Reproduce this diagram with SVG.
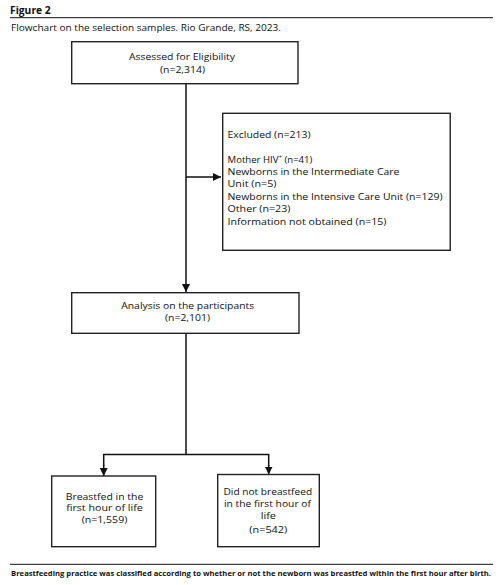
<svg xmlns="http://www.w3.org/2000/svg" width="501" height="585" viewBox="0 0 501 585">
<defs>
<marker id="ah" viewBox="0 0 10 10" refX="10" refY="5" markerWidth="8" markerHeight="8" markerUnits="userSpaceOnUse" orient="auto">
<path d="M0,0 L10,5 L0,10 z" fill="#111"/>
</marker>
<style>
.box{fill:#fff;stroke:#222;stroke-width:1.4}
.t{font-family:"Open Sans","Liberation Sans",Arial,sans-serif;font-size:9.6px;fill:#111}
.c{text-anchor:middle}
.conn{fill:none;stroke:#111;stroke-width:1.5}
.rule{stroke:#111;stroke-width:1}
</style>
</defs>
<rect width="501" height="585" fill="#fff"/>
<g id="header">
<text x="10" y="14" class="t" style="font-weight:bold;font-size:11px" textLength="40.7" lengthAdjust="spacingAndGlyphs">Figure 2</text>
<line x1="10" y1="17.7" x2="493" y2="17.7" class="rule"/>
<text x="11" y="30.5" class="t" style="font-size:9.3px" textLength="270" lengthAdjust="spacingAndGlyphs">Flowchart on the selection samples. Rio Grande, RS, 2023.</text>
</g>
<g id="connectors">
<line x1="186" y1="84" x2="186" y2="292" class="conn" marker-end="url(#ah)"/>
<line x1="186" y1="177" x2="221" y2="177" class="conn" marker-end="url(#ah)"/>
<polyline points="186,334 186,454.5" class="conn"/>
<polyline points="103.7,466 103.7,454.5 268.7,454.5 268.7,466" class="conn"/>
<line x1="103.7" y1="465" x2="103.7" y2="476" class="conn" marker-end="url(#ah)"/>
<line x1="268.7" y1="465" x2="268.7" y2="474.5" class="conn" marker-end="url(#ah)"/>
</g>
<g id="assessed">
<rect x="71.7" y="41.7" width="226.3" height="42" class="box"/>
<text x="182" y="59.5" class="t c" textLength="106" lengthAdjust="spacingAndGlyphs">Assessed for Eligibility</text>
<text x="182.5" y="72.5" class="t c" textLength="45" lengthAdjust="spacingAndGlyphs">(n=2,314)</text>
</g>
<g id="excluded">
<rect x="222.7" y="113.3" width="227.5" height="137" class="box"/>
<text x="227.5" y="137.5" class="t" textLength="83" lengthAdjust="spacingAndGlyphs">Excluded (n=213)</text>
<text x="227.5" y="162.5" class="t">Mother HIV<tspan style="font-size:6px" dy="-3.5">+</tspan><tspan dy="3.5"> (n=41)</tspan></text>
<text x="227.5" y="175" class="t" textLength="172" lengthAdjust="spacingAndGlyphs">Newborns in the Intermediate Care</text>
<text x="227.5" y="187" class="t" textLength="49" lengthAdjust="spacingAndGlyphs">Unit (n=5)</text>
<text x="227.5" y="199.5" class="t" textLength="215" lengthAdjust="spacingAndGlyphs">Newborns in the Intensive Care Unit (n=129)</text>
<text x="227.5" y="212" class="t" textLength="63" lengthAdjust="spacingAndGlyphs">Other (n=23)</text>
<text x="227.5" y="224.5" class="t" textLength="159" lengthAdjust="spacingAndGlyphs">Information not obtained (n=15)</text>
</g>
<g id="analysis">
<rect x="71.7" y="292.7" width="227.3" height="40.6" class="box"/>
<text x="187.7" y="308.5" class="t c" textLength="133" lengthAdjust="spacingAndGlyphs">Analysis on the participants</text>
<text x="187.5" y="321" class="t c" textLength="45" lengthAdjust="spacingAndGlyphs">(n=2,101)</text>
</g>
<g id="breastfed">
<rect x="51.7" y="476" width="104" height="70.7" class="box"/>
<text x="104.5" y="499.5" class="t c" textLength="77.7" lengthAdjust="spacingAndGlyphs">Breastfed in the</text>
<text x="104.5" y="511.2" class="t c" textLength="76.7" lengthAdjust="spacingAndGlyphs">first hour of life</text>
<text x="104.5" y="523" class="t c" textLength="45.7" lengthAdjust="spacingAndGlyphs">(n=1,559)</text>
</g>
<g id="notbreastfed">
<rect x="217.7" y="474.5" width="101.6" height="72.2" class="box"/>
<text x="267.8" y="494.5" class="t c" textLength="88.7" lengthAdjust="spacingAndGlyphs">Did not breastfeed</text>
<text x="267.5" y="506.7" class="t c" textLength="87" lengthAdjust="spacingAndGlyphs">in the first hour of</text>
<text x="268.3" y="518.8" class="t c" textLength="15.3" lengthAdjust="spacingAndGlyphs">life</text>
<text x="268.3" y="532.7" class="t c" textLength="38" lengthAdjust="spacingAndGlyphs">(n=542)</text>
</g>
<g id="footer">
<line x1="10" y1="564.3" x2="493" y2="564.3" class="rule"/>
<text x="11" y="575.5" class="t" style="font-weight:bold;font-size:7.5px" textLength="480" lengthAdjust="spacingAndGlyphs">Breastfeeding practice was classified according to whether or not the newborn was breastfed within the first hour after birth.</text>
</g>
</svg>
